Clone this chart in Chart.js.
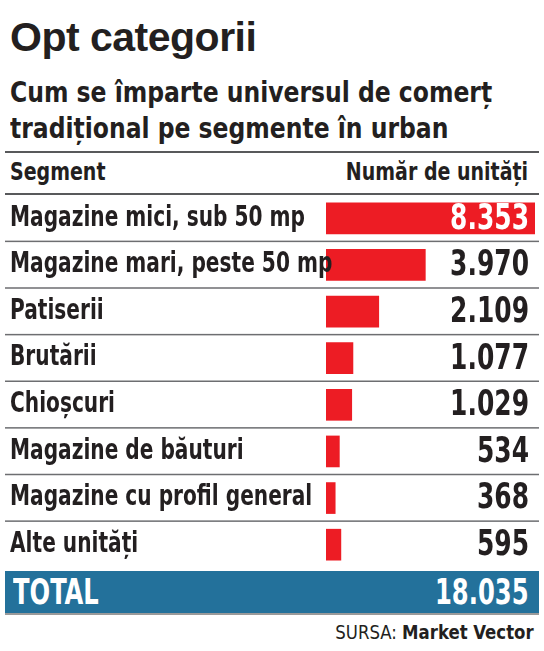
<!DOCTYPE html>
<html>
<head>
<meta charset="utf-8">
<script src="https://cdn.jsdelivr.net/npm/chart.js@4"></script>
<style>
  body { margin: 0; width: 544px; height: 651px; background: #fff; position: relative; overflow: hidden;
         font-family: "Liberation Sans Narrow", "DejaVu Sans Condensed", sans-serif; color: #231f20; }
  .abs { position: absolute; white-space: nowrap; }
  #title { left: 10px; top: 14px; font: bold 41px "Liberation Sans", Arial, sans-serif; letter-spacing: -0.5px; }
  #sub { left: 10px; top: 74px; font-weight: bold; font-size: 29px; line-height: 36px; transform: scaleX(0.9); transform-origin: left; }
  .rule { left: 5px; width: 534px; height: 2px; background: #58595b; }
  .hdr { top: 158px; font-weight: bold; font-size: 24px; transform: scaleX(0.88); }
  #total { left: 5px; top: 571px; width: 534px; height: 42px; background: #23719b; color: #fff;
           font-weight: bold; font-size: 35px; line-height: 42px; border-bottom: 2px solid #9a9a9a; }
  #total span { position: absolute; transform: scaleX(0.77); }
  #src { right: 10px; top: 620px; font-size: 20px; transform: scaleX(0.92); transform-origin: right; }
  #wrap { left: 0; top: 195px; width: 544px; height: 373px; }
</style>
</head>
<body>
<div id="title" class="abs">Opt categorii</div>
<div id="sub" class="abs">Cum se împarte universul de comerț<br>tradițional pe segmente în urban</div>
<div class="abs rule" style="top:151px"></div>
<div class="abs hdr" style="left:10px;transform-origin:left">Segment</div>
<div class="abs hdr" style="right:16px;transform-origin:right">Număr de unități</div>
<div class="abs rule" style="top:193px"></div>
<div id="wrap" class="abs"><canvas id="c"></canvas></div>
<div id="total" class="abs"><span style="left:8px;transform-origin:left">TOTAL</span><span style="right:10px;transform-origin:right">18.035</span></div>
<div id="src" class="abs">SURSA: <b>Market Vector</b></div>
<script>
const segments = ['Magazine mici, sub 50 mp', 'Magazine mari, peste 50 mp', 'Patiserii', 'Brutării',
  'Chioșcuri', 'Magazine de băuturi', 'Magazine cu profil general', 'Alte unități'];
const units = [8353, 3970, 2109, 1077, 1029, 534, 368, 595];
const unitLabels = ['8.353', '3.970', '2.109', '1.077', '1.029', '534', '368', '595'];

const FONT = '"Liberation Sans Narrow", "DejaVu Sans Condensed", sans-serif';

// draws segment names, values and row separators (text squeezed horizontally)
const rowText = {
  id: 'rowText',
  afterDatasetsDraw(chart) {
    const ctx = chart.ctx;
    const y = chart.scales.y;
    const h = chart.height / segments.length;
    segments.forEach((name, i) => {
      const cy = y.getPixelForValue(i);
      ctx.save();
      ctx.textBaseline = 'middle';
      ctx.font = 'bold 28px ' + FONT;
      ctx.fillStyle = '#231f20';
      ctx.textAlign = 'left';
      ctx.scale(0.8, 1);
      ctx.fillText(name, 10 / 0.8, cy);
      ctx.restore();
      ctx.save();
      ctx.textBaseline = 'middle';
      ctx.font = 'bold 36px ' + FONT;
      ctx.textAlign = 'right';
      ctx.fillStyle = i === 0 ? '#fff' : '#231f20';
      ctx.scale(0.77, 1);
      ctx.fillText(unitLabels[i], 529 / 0.77, cy + 1);
      ctx.restore();
      if (i < segments.length - 1) {
        ctx.fillStyle = '#6d6e71';
        ctx.fillRect(5, cy + h / 2 - 1, 534, 1.5);
      }
    });
  }
};

new Chart(document.getElementById('c'), {
  type: 'bar',
  data: {
    labels: segments,
    datasets: [{ data: units, backgroundColor: '#ed1c24', barThickness: 31, categoryPercentage: 1, barPercentage: 1 }]
  },
  options: {
    indexAxis: 'y',
    responsive: true,
    maintainAspectRatio: false,
    animation: false,
    layout: { padding: { left: 326, right: 9, top: 0, bottom: 0 } },
    scales: {
      x: { min: 0, max: 8353, display: false },
      y: { display: false }
    },
    plugins: { legend: { display: false }, tooltip: { enabled: false } }
  },
  plugins: [rowText]
});
</script>
</body>
</html>
